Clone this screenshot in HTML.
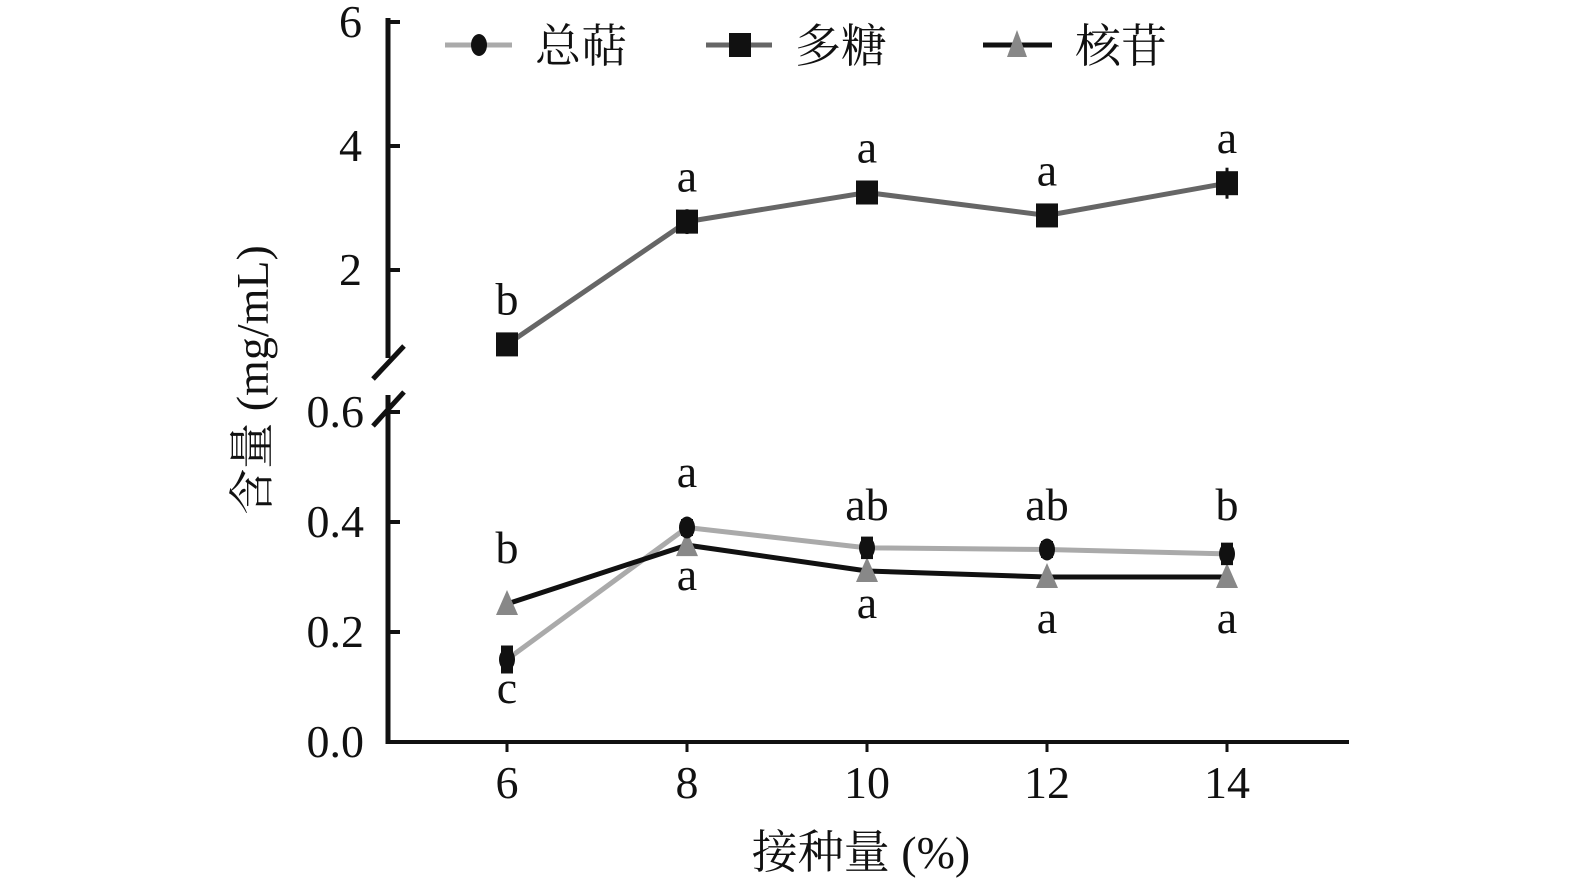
<!DOCTYPE html>
<html><head><meta charset="utf-8"><style>
html,body{margin:0;padding:0;background:#fff;overflow:hidden;width:1575px;height:886px}
svg{display:block}
svg text{font-family:"Liberation Serif","Noto Serif CJK SC","Noto Sans CJK SC",serif;fill:#111}
</style></head><body>
<svg id="c" width="1575" height="886" viewBox="0 0 1575 886" xmlns="http://www.w3.org/2000/svg">
<g id="axes">
<line x1="388" y1="18" x2="388" y2="358" stroke="#111" stroke-width="5"/>
<line x1="388" y1="395" x2="388" y2="744" stroke="#111" stroke-width="5"/>
<line x1="373" y1="379" x2="404" y2="346" stroke="#111" stroke-width="5"/>
<line x1="373" y1="426" x2="404" y2="392" stroke="#111" stroke-width="5"/>
<line x1="386" y1="742" x2="1349" y2="742" stroke="#111" stroke-width="4"/>
</g>
<text x="861" y="868" font-size="46" text-anchor="middle">接种量 (%)</text>
<text transform="translate(268,380) rotate(-90)" font-size="46" text-anchor="middle">含量 (mg/mL)</text>
<g>
<g>
<line x1="445" y1="45" x2="512" y2="45" stroke="#aaa" stroke-width="5"/>
<ellipse cx="479" cy="45" rx="8" ry="11" fill="#111"/>
<text x="535" y="62" font-size="46">总萜</text></g>
<g>
<line x1="706" y1="45" x2="772" y2="45" stroke="#666" stroke-width="5"/>
<rect x="729" y="33" width="22" height="24" fill="#111"/>
<text x="795" y="62" font-size="46">多糖</text></g>
<g>
<line x1="983" y1="45" x2="1052" y2="45" stroke="#111" stroke-width="5"/>
<polygon points="1017,30 1007,57 1027,57" fill="#888"/>
<text x="1075" y="62" font-size="46">核苷</text></g>
</g>
<g id="plot"></g>
</svg>
<script>
const categories=[6,8,10,12,14];
const upperTicks=[2,4,6];
const lowerTicks=["0.0","0.2","0.4","0.6"];
const polysaccharide=[0.8,2.78,3.25,2.88,3.4];
const polyErr=[0.1,0.2,0.15,0.15,0.25];
const terpene=[0.15,0.39,0.353,0.35,0.342];
const terpeneErr=[0.02,0.01,0.015,0.01,0.015];
const nucleoside=[0.251,0.358,0.311,0.30,0.30];
const polyLabels=["b","a","a","a","a"];
const lowerTopLabels=["b","a","ab","ab","b"];
const lowerBottomLabels=["c","a","a","a","a"];
const NS="http://www.w3.org/2000/svg";
const plot=document.getElementById('plot');
function xs(v){return 507+(v-6)*90;}
function yu(v){return 270-(v-2)*62;}
function yl(v){return 742-v*550;}
function mk(tag,attrs,parent){const e=document.createElementNS(NS,tag);for(const k in attrs)e.setAttribute(k,attrs[k]);(parent||plot).appendChild(e);return e;}
function txt(s,x,y,size,anchor){const t=mk('text',{x:x,y:y,'font-size':size,'text-anchor':anchor||'middle'});t.textContent=s;return t;}
upperTicks.forEach(v=>{
 const l=mk('line',{x1:388,x2:400,y1:yu(v),y2:yu(v),stroke:'#111','stroke-width':4});
 
 
 const t=txt(String(v),362,yu(v)+15,46,'end');
 
 
});
lowerTicks.forEach(s=>{
 const v=parseFloat(s);
 const l=mk('line',{x1:388,x2:400,y1:yl(v),y2:yl(v),stroke:'#111','stroke-width':4});
 
 
 const t=txt(s,364,yl(v)+15,46,'end');
 
 
});
categories.forEach(c=>{
 const l=mk('line',{x1:xs(c),x2:xs(c),y1:742,y2:752,stroke:'#111','stroke-width':3});
 
 
 const t=txt(String(c),xs(c),798,46);
 
 
});
function line(vals,yf,color,name){
 const p=mk('polyline',{points:vals.map((v,i)=>xs(categories[i])+','+yf(v)).join(' '),fill:'none',stroke:color,'stroke-width':5});
 
 
}
line(polysaccharide,yu,'#666','polysaccharide-line');
line(terpene,yl,'#aaa','terpene-line');
line(nucleoside,yl,'#111','nucleoside-line');
polysaccharide.forEach((v,i)=>{
 const x=xs(categories[i]),y=yu(v),e=polyErr[i]*62;
 mk('line',{x1:x,x2:x,y1:y-e,y2:y+e,stroke:'#111','stroke-width':3});
 const r=mk('rect',{x:x-11,y:y-12,width:22,height:24,fill:'#111'});
 
 
 const t=txt(polyLabels[i],x,y-30,46);
 
 
});
nucleoside.forEach((v,i)=>{
 const x=xs(categories[i]),y=yl(v);
 const p=mk('polygon',{points:(x)+','+(y-14)+' '+(x-11)+','+(y+11)+' '+(x+11)+','+(y+11),fill:'#888'});
 
 
});
terpene.forEach((v,i)=>{
 const x=xs(categories[i]),y=yl(v),e=terpeneErr[i]*550;
 mk('rect',{x:x-6,y:y-e-3,width:12,height:2*e+6,fill:'#111'});
 const c=mk('ellipse',{cx:x,cy:y,rx:8,ry:11,fill:'#111'});
 
 
});
const topY=[563,487,520,520,520];
const botY=[703,590,618,633,633];
categories.forEach((c,i)=>{
 const t1=txt(lowerTopLabels[i],xs(c),Math.min(topY[i],yl(Math.max(terpene[i],nucleoside[i]))-28),46);
 
 
 const t2=txt(lowerBottomLabels[i],xs(c),Math.max(botY[i],yl(Math.min(terpene[i],nucleoside[i]))+42),46);
 
 
});
</script>
</body></html>
